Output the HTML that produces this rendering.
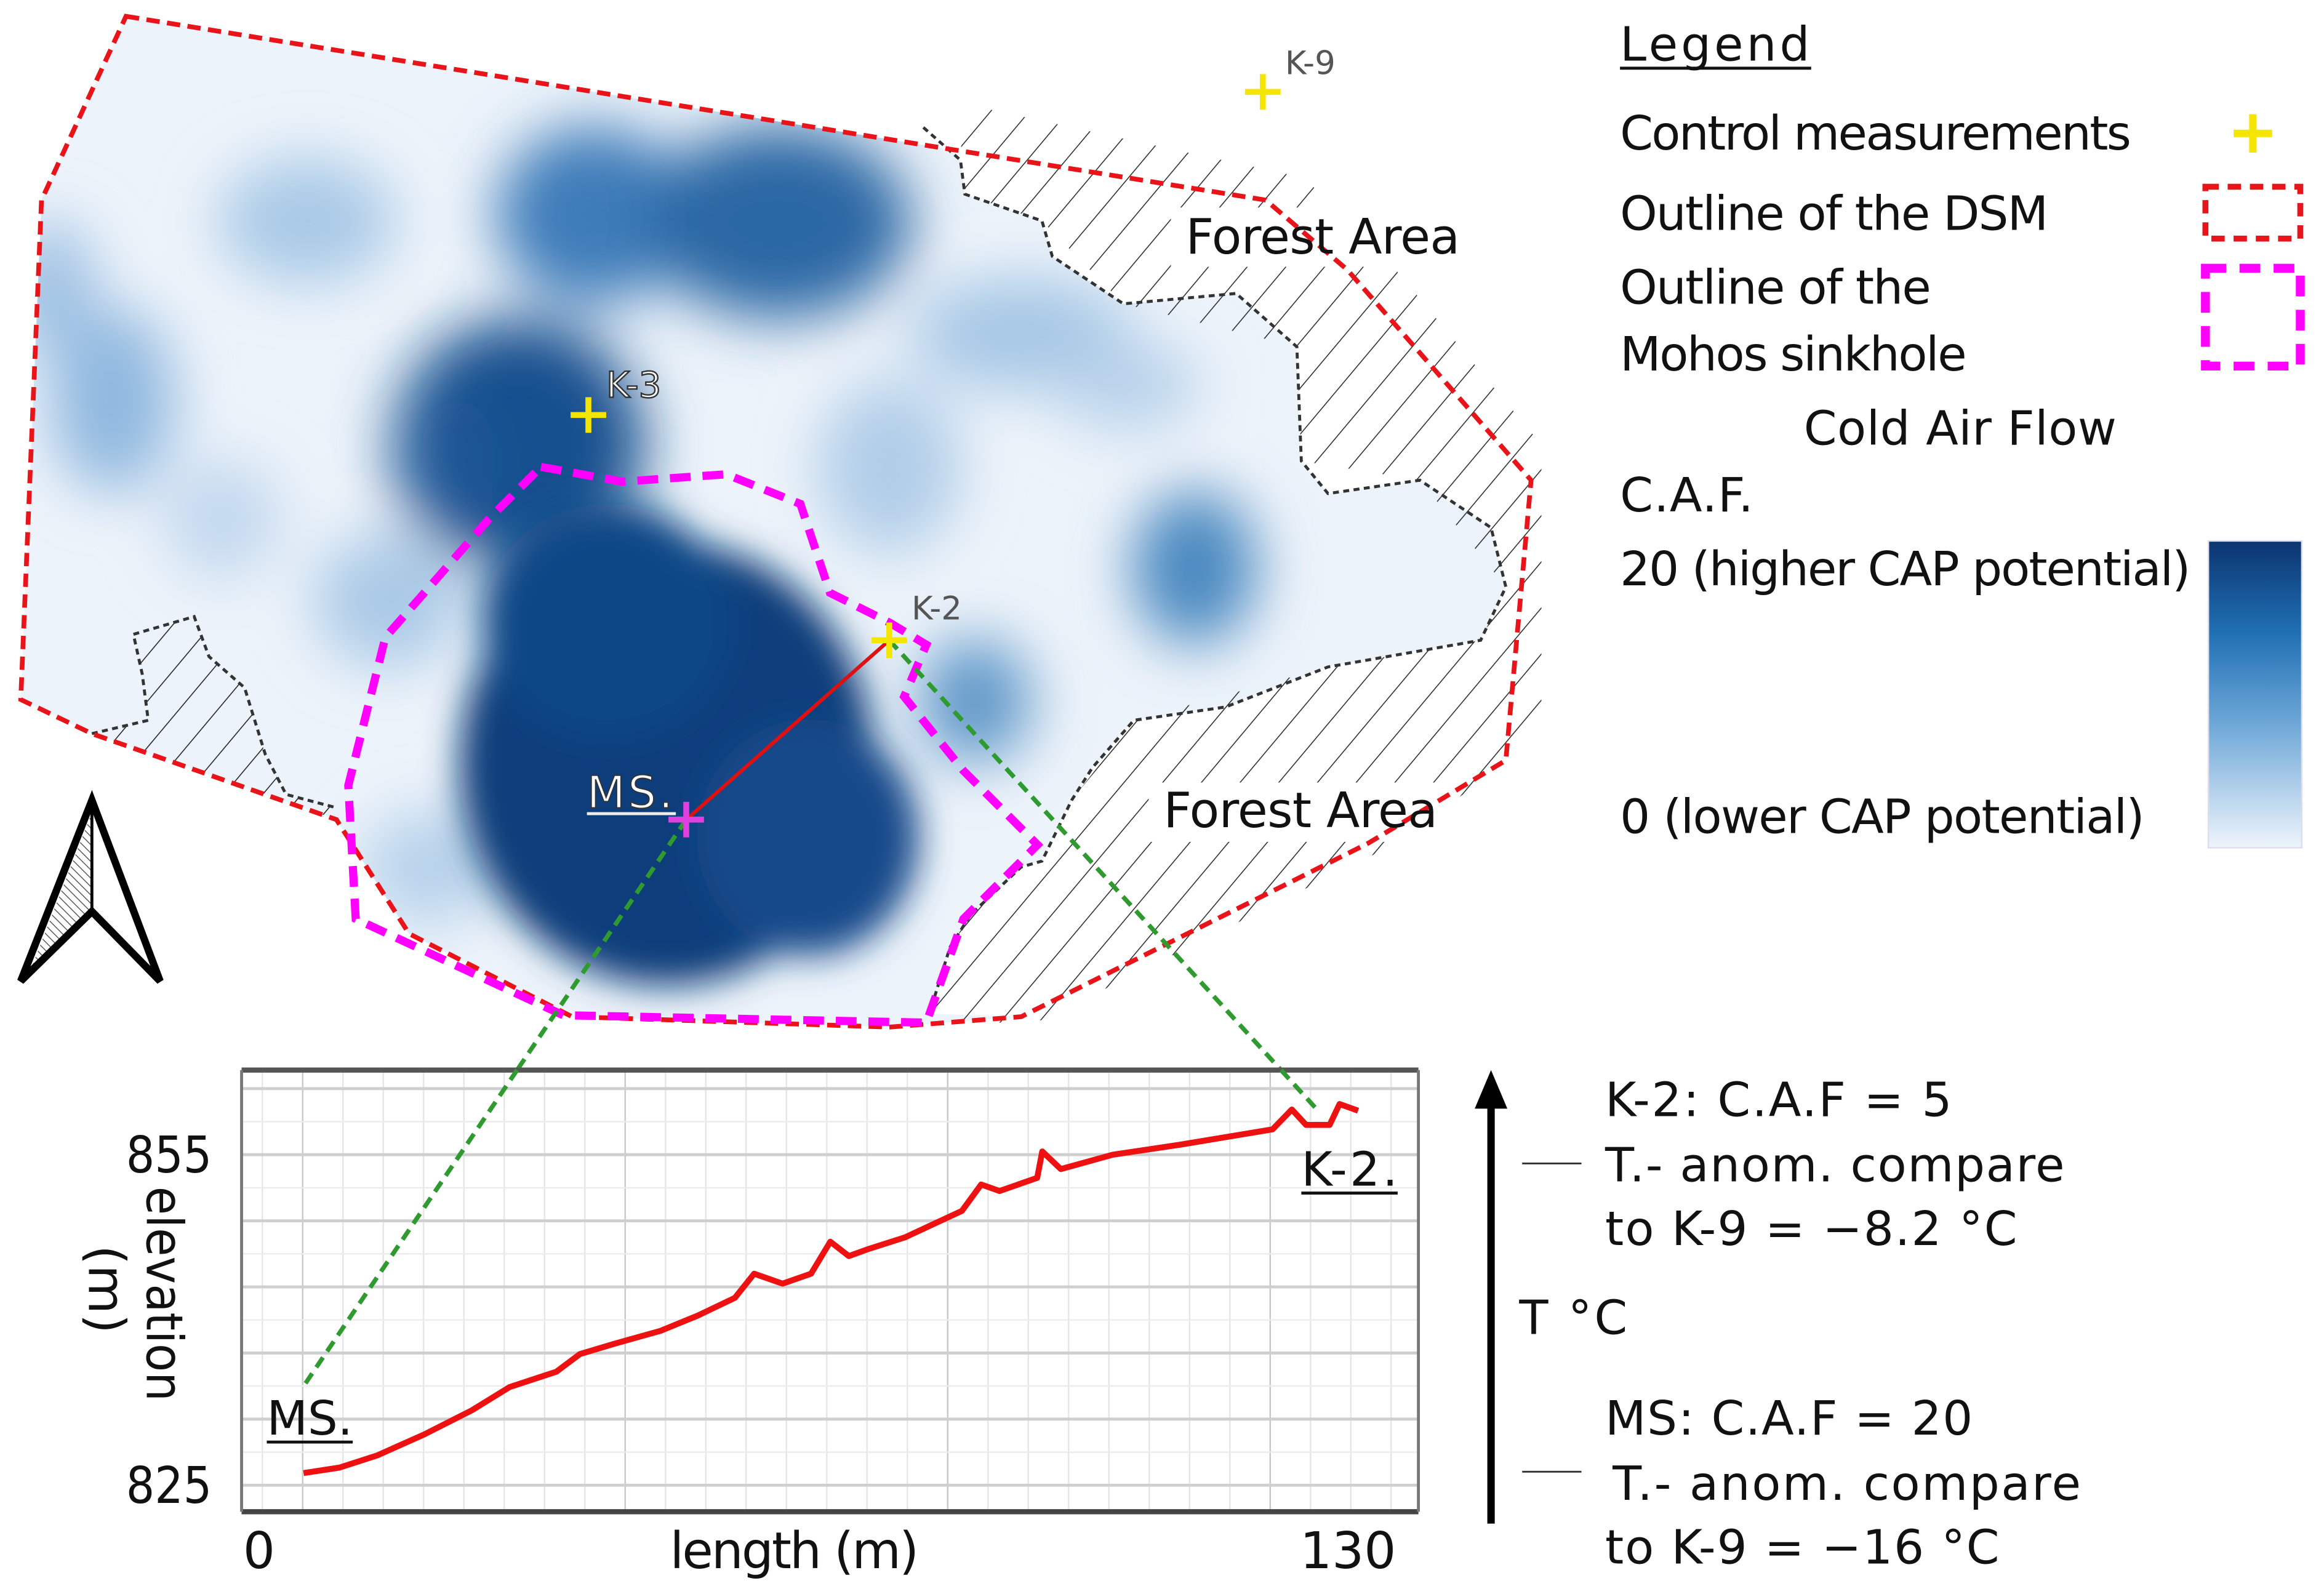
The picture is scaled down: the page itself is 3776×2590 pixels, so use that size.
<!DOCTYPE html>
<html><head><meta charset="utf-8"><style>
html,body{margin:0;padding:0;background:#fff;}
svg{display:block;}
text{font-family:"DejaVu Sans","Liberation Sans",sans-serif;}
</style></head><body>
<svg id="fig" width="3776" height="2590" viewBox="0 0 1568 1075.5" xmlns="http://www.w3.org/2000/svg">
<defs>
<pattern id="hatch" patternUnits="userSpaceOnUse" width="20" height="20" patternTransform="rotate(40)">
<line x1="0" y1="0" x2="0" y2="20" stroke="#222" stroke-width="1.3"/>
</pattern>
<pattern id="hatch2" patternUnits="userSpaceOnUse" width="4" height="4" patternTransform="rotate(-45)">
<line x1="0" y1="0" x2="0" y2="4" stroke="#555" stroke-width="1.2"/>
</pattern>
<filter id="blur" x="-50%" y="-50%" width="200%" height="200%"><feGaussianBlur stdDeviation="20"/></filter>
<filter id="blur2" x="-50%" y="-50%" width="200%" height="200%"><feGaussianBlur stdDeviation="12"/></filter>
<clipPath id="dsmclip"><polygon points="85,11 854,135 909,182 1033,324 1016,513 923,569 689,686 600,693 386,686 276,630 227,553 62,495 14,472 28,135"/></clipPath>
<clipPath id="hatchclip"><polygon points="640,60 880,110 1045,300 1045,640 620,700 620,60"/></clipPath>
<linearGradient id="cafgrad" x1="0" y1="0" x2="0" y2="1">
<stop offset="0" stop-color="#0b3470"/><stop offset="0.3" stop-color="#2070b4"/><stop offset="0.6" stop-color="#6fa8d8"/><stop offset="1" stop-color="#eef4fb"/>
</linearGradient>
</defs>

<!-- MAP -->
<g>
<polygon points="85,11 854,135 909,182 1033,324 1016,513 923,569 689,686 600,693 386,686 276,630 227,553 62,495 14,472 28,135" fill="#edf3fa"/>
<g clip-path="url(#dsmclip)">
<g filter="url(#blur)">
<ellipse cx="207" cy="149" rx="60" ry="42" fill="#a8c9e6"/>
<ellipse cx="76" cy="270" rx="42" ry="62" fill="#8fb8df"/>
<ellipse cx="34" cy="194" rx="30" ry="45" fill="#9cc0e2"/>
<ellipse cx="600" cy="315" rx="48" ry="58" fill="#b0cde8"/>
<ellipse cx="689" cy="225" rx="75" ry="38" fill="#a6c7e5"/>
<ellipse cx="262" cy="405" rx="50" ry="45" fill="#a9c9e6"/>
<ellipse cx="290" cy="585" rx="45" ry="38" fill="#b5d1ea"/>
<ellipse cx="150" cy="350" rx="40" ry="40" fill="#c2d8ee"/>
<ellipse cx="760" cy="260" rx="50" ry="30" fill="#b8d2ea"/>
<ellipse cx="400" cy="145" rx="65" ry="60" fill="#3d7cb9"/>
<ellipse cx="525" cy="150" rx="90" ry="65" fill="#2a67a4"/>
<ellipse cx="806" cy="383" rx="42" ry="52" fill="#4a88c0"/>
<ellipse cx="658" cy="473" rx="38" ry="42" fill="#5e97c8"/>
<ellipse cx="350" cy="300" rx="85" ry="85" fill="#134f8e"/>
<ellipse cx="300" cy="310" rx="35" ry="45" fill="#1a5796"/>
</g>
<g filter="url(#blur2)">
<ellipse cx="450" cy="515" rx="140" ry="150" fill="#0b3d7a"/>
<ellipse cx="410" cy="420" rx="85" ry="80" fill="#0f4686"/>
<ellipse cx="545" cy="565" rx="75" ry="80" fill="#12498a"/>
</g>
</g>
<!-- forests -->
<polygon points="623,86 648,108 651,131 703,149 710,173 758,205 834,198 875,234 878,311 896,333 958,324 1006,356 1016,396 999,432 896,450 827,477 765,486 737,518 723,540 703,581 689,585 655,617 641,639 627,684 689,686 923,569 1016,513 1033,324 909,182 854,135" fill="#fff"/>
<g clip-path="url(#hatchclip)">
<polygon points="650,70 880,120 940,180 1040,300 1040,500 930,575 700,690 627,690 641,639 655,617 689,585 703,581 723,540 765,486 896,450 999,432 1016,396 958,324 878,311 875,234 758,205 703,149 651,131 648,108" fill="url(#hatch)" opacity="0.95"/>
</g>
<rect x="790" y="140" width="200" height="40" fill="#fff"/>
<rect x="775" y="528" width="200" height="40" fill="#fff"/>
<polygon points="62,495 100,486 96,455 90,428 131,416 141,443 165,464 179,509 193,536 227,545 227,553" fill="url(#hatch)"/>
<polyline points="623,86 648,108 651,131 703,149 710,173 758,205 834,198 875,234 878,311 896,333 958,324 1006,356 1016,396 999,432 896,450 827,477 765,486 737,518 723,540 703,581 689,585 655,617 641,639 627,684" fill="none" stroke="#333" stroke-width="2" stroke-dasharray="4,3"/>
<polyline points="62,495 100,486 96,455 90,428 131,416 141,443 165,464 179,509 193,536 227,545" fill="none" stroke="#333" stroke-width="2" stroke-dasharray="4,3"/>
<polygon points="85,11 854,135 909,182 1033,324 1016,513 923,569 689,686 600,693 386,686 276,630 227,553 62,495 14,472 28,135" fill="none" stroke="#e8141a" stroke-width="3.2" stroke-dasharray="9,5"/>
<polygon points="365,315 420,325 490,320 540,340 560,400 600,420 625,435 610,470 650,520 700,570 680,590 650,620 625,690 380,685 240,620 235,530 260,430 330,350" fill="none" stroke="#ff00ff" stroke-width="5.5" stroke-dasharray="14,8"/>
<line x1="463" y1="553" x2="600" y2="432" stroke="#dd1111" stroke-width="2.5"/>
<line x1="463" y1="553" x2="205" y2="935" stroke="#2f9a2f" stroke-width="3" stroke-dasharray="8,5"/>
<line x1="600" y1="432" x2="888" y2="748" stroke="#2f9a2f" stroke-width="3" stroke-dasharray="8,5"/>
<g stroke="#f4e600" stroke-width="4"><line x1="840" y1="62" x2="864" y2="62"/><line x1="852" y1="50" x2="852" y2="74"/></g>
<text x="867" y="50" font-size="22" fill="#555">K-9</text>
<g stroke="#f4e600" stroke-width="4"><line x1="385" y1="280" x2="409" y2="280"/><line x1="397" y1="268" x2="397" y2="292"/></g>
<text x="409" y="268" font-size="24" fill="#fff" stroke="#333" stroke-width="1">K-3</text>
<g stroke="#f4e600" stroke-width="4"><line x1="588" y1="432" x2="612" y2="432"/><line x1="600" y1="420" x2="600" y2="444"/></g>
<text x="615" y="418" font-size="22" fill="#555">K-2</text>
<g stroke="#e040e0" stroke-width="4"><line x1="451" y1="553" x2="475" y2="553"/><line x1="463" y1="541" x2="463" y2="565"/></g>
<text x="396" y="545" font-size="30" fill="#fff" stroke="#333" stroke-width="0.8" textLength="58">MS.</text>
<line x1="396" y1="549" x2="456" y2="549" stroke="#eee" stroke-width="2"/>
<text x="800" y="171" font-size="33" fill="#111" textLength="185">Forest Area</text>
<text x="785" y="558" font-size="33" fill="#111" textLength="185">Forest Area</text>
<g>
<polygon points="62,548 62,615 20,656" fill="url(#hatch2)"/>
<polygon points="62,540 14,662 62,615 108,662" fill="none" stroke="#000" stroke-width="5" stroke-linejoin="miter"/>
<line x1="62" y1="540" x2="62" y2="615" stroke="#000" stroke-width="2"/>
</g>
</g>

<!-- LEGEND -->
<g font-size="32" fill="#111">
<text x="1093" y="41" textLength="128">Legend</text>
<line x1="1093" y1="46" x2="1222" y2="46" stroke="#111" stroke-width="2"/>
<text x="1093" y="101" textLength="345">Control measurements</text>
<g stroke="#f4e600" stroke-width="5"><line x1="1507" y1="90" x2="1533" y2="90"/><line x1="1520" y1="77" x2="1520" y2="103"/></g>
<text x="1093" y="155" textLength="289">Outline of the DSM</text>
<rect x="1488" y="126" width="64" height="35" fill="none" stroke="#e8141a" stroke-width="4" stroke-dasharray="9,6"/>
<text x="1093" y="205" textLength="210">Outline of the</text>
<text x="1093" y="250" textLength="234">Mohos sinkhole</text>
<rect x="1488" y="181" width="64" height="66" fill="none" stroke="#ff00ff" stroke-width="6" stroke-dasharray="14,9"/>
<text x="1217" y="300" textLength="211">Cold Air Flow</text>
<text x="1093" y="345" textLength="90">C.A.F.</text>
<text x="1093" y="395" textLength="385">20 (higher CAP potential)</text>
<text x="1093" y="562" textLength="354">0 (lower CAP potential)</text>
<rect x="1490" y="365" width="63" height="207" fill="url(#cafgrad)" stroke="#dde" stroke-width="1"/>
</g>

<!-- PROFILE CHART -->
<g id="chart"></g>

<!-- right annotation -->
<g font-size="32" fill="#111">
<line x1="1006" y1="1028" x2="1006" y2="745" stroke="#000" stroke-width="5"/>
<polygon points="1006,722 995,748 1017,748" fill="#000"/>
<line x1="1027" y1="785" x2="1067" y2="785" stroke="#333" stroke-width="1.2"/>
<line x1="1027" y1="993" x2="1067" y2="993" stroke="#333" stroke-width="1.2"/>
<text x="1083" y="753" textLength="234">K-2: C.A.F = 5</text>
<text x="1083" y="797" textLength="310">T.- anom. compare</text>
<text x="1083" y="840" textLength="278">to K-9 = −8.2 °C</text>
<text x="1025" y="900" textLength="73">T °C</text>
<text x="1083" y="968" textLength="248">MS: C.A.F = 20</text>
<text x="1088" y="1012" textLength="316">T.- anom. compare</text>
<text x="1083" y="1055" textLength="266">to K-9 = −16 °C</text>
</g>
</svg>
<script>
const lengths = [5.3,9.6,14.1,19.7,25.4,29.9,35.5,38.3,42.2,47.9,52.4,56.8,59.1,62.5,65.9,68.2,70.4,72.6,77.1,83.9,86.2,88.4,92.9,93.5,95.7,101.9,109.9,121.0,123.3,125.0,127.8,129.0,131.2];
const elevations = [826.1,826.6,827.7,829.6,831.8,833.9,835.3,836.9,837.8,839.0,840.4,842.0,844.2,843.3,844.2,847.1,845.8,846.4,847.5,849.9,852.3,851.7,852.9,855.3,853.7,855.0,855.9,857.3,859.1,857.7,857.7,859.6,859.0];
const yTicks = [825, 855];
const xTicks = [0, 130];
const gridElev = [825,831,837,843,849,855,861];

const NS='http://www.w3.org/2000/svg';
const g=document.getElementById('chart');
const xs=v=>174.8+(v-0)*(909.5-174.8)/130;
const ys=v=>1002.1-(v-825)*(1002.1-779.1)/30;
function mk(t,a){const e=document.createElementNS(NS,t);for(const k in a)e.setAttribute(k,a[k]);g.appendChild(e);return e;}
const L=163,R=957,T=722,B=1020;
let bg=mk('rect',{x:L,y:T,width:R-L,height:B-T,fill:'#fff'});


for(let x=177,i=0;x<R;x+=27.2,i++){
  const ln=mk('line',{x1:x,y1:T,x2:x,y2:B,stroke:(i%8==1)?'#c8c8c8':'#e6e6e6','stroke-width':1});
  
  
}
for(let v=825-3;v<=864;v+=3){
  const y=ys(v); if(y<T||y>B) continue;
  const major=gridElev.includes(v);
  const ln=mk('line',{x1:L,y1:y,x2:R,y2:y,stroke:major?'#cfcfcf':'#ececec','stroke-width':major?2:1});
  
  
}
mk('line',{x1:L,y1:T,x2:R,y2:T,stroke:'#555','stroke-width':3.5});
mk('line',{x1:L,y1:B,x2:R,y2:B,stroke:'#444','stroke-width':3.5});
mk('line',{x1:L,y1:T,x2:L,y2:B,stroke:'#777','stroke-width':2});
mk('line',{x1:R,y1:T,x2:R,y2:B,stroke:'#777','stroke-width':2});
const pts=lengths.map((l,i)=>xs(l).toFixed(1)+','+ys(elevations[i]).toFixed(1)).join(' ');
const pl=mk('polyline',{points:pts,fill:'none',stroke:'#ee1111','stroke-width':4,'stroke-linejoin':'round'});


yTicks.forEach(v=>{
  const t=mk('text',{x:143,y:ys(v)+12,'font-size':34,'text-anchor':'end',fill:'#111',textLength:58,lengthAdjust:'spacingAndGlyphs'});
  t.textContent=v;
  
  
});
xTicks.forEach(v=>{
  const t=mk('text',{x:xs(v),y:1058,'font-size':34,'text-anchor':'middle',fill:'#111'});
  t.textContent=v;
  
  
});
let xt=mk('text',{x:536,y:1058,'font-size':34,'text-anchor':'middle',fill:'#111',textLength:168});
xt.textContent='length (m)';


let yt=mk('text',{x:0,y:0,'font-size':34,'text-anchor':'middle',fill:'#111',textLength:145,lengthAdjust:'spacingAndGlyphs',transform:'translate(99,873) rotate(90)'});
yt.textContent='elevation';


let yt2=mk('text',{x:0,y:0,'font-size':34,'text-anchor':'middle',fill:'#111',transform:'translate(60,870) rotate(90)'});
yt2.textContent='(m)';


let m1=mk('text',{x:180,y:968,'font-size':32,fill:'#111',textLength:58});
m1.textContent='MS.';


mk('line',{x1:180,y1:973,x2:238,y2:973,stroke:'#111','stroke-width':2});
let m2=mk('text',{x:878,y:800,'font-size':32,fill:'#111',textLength:65});
m2.textContent='K-2.';


mk('line',{x1:878,y1:805,x2:943,y2:805,stroke:'#111','stroke-width':2});
const c1=mk('line',{x1:463+(205-463)*((722-553)/(935-553)), y1:722, x2:205, y2:935, stroke:'#2f9a2f','stroke-width':3,'stroke-dasharray':'8,5'});


const c2=mk('line',{x1:600+(888-600)*((722-432)/(748-432)), y1:722, x2:888, y2:748, stroke:'#2f9a2f','stroke-width':3,'stroke-dasharray':'8,5'});


</script>
</body></html>
